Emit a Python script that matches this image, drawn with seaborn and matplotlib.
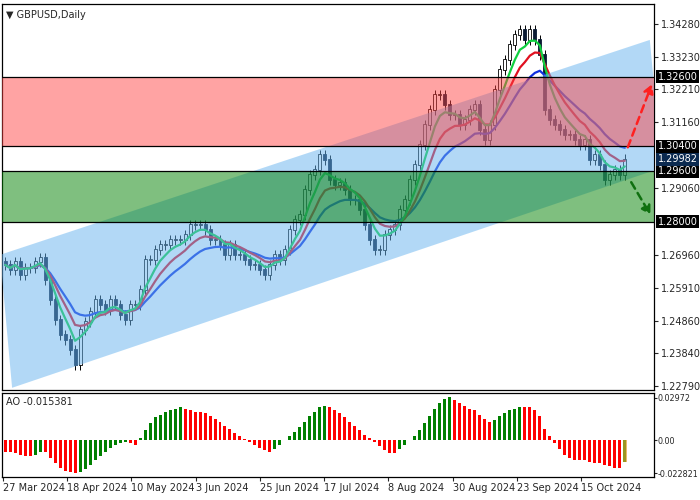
import numpy as np
import pandas as pd
import matplotlib
matplotlib.use("Agg")
import matplotlib.pyplot as plt
import matplotlib.transforms as mtrans
from matplotlib.patches import Polygon, FancyArrowPatch
import seaborn as sns

sns.set_style("white")
plt.rcParams['font.family'] = ['DejaVu Sans']

closes = [
1.2663,1.2647,1.2673,1.2631,1.2654,1.2654,1.2673,1.2685,1.2615,1.2552,
1.2488,1.2441,1.2425,1.2393,1.2346,1.2457,1.2482,1.2514,1.2552,1.2536,
1.2520,1.2552,1.2536,1.2504,1.2488,1.2536,1.2536,1.2584,1.2679,1.2679,
1.2711,1.2727,1.2727,1.2742,1.2742,1.2742,1.2758,1.2790,1.2790,1.2790,
1.2774,1.2742,1.2742,1.2727,1.2695,1.2727,1.2695,1.2695,1.2679,1.2663,
1.2663,1.2647,1.2631,1.2663,1.2695,1.2679,1.2711,1.2774,1.2806,1.2822,
1.2901,1.2949,1.2965,1.3012,1.2996,1.2933,1.2917,1.2923,1.2901,1.2869,
1.2869,1.2838,1.2790,1.2742,1.2711,1.2711,1.2758,1.2774,1.2790,1.2838,
1.2869,1.2933,1.2980,1.3044,1.3107,1.3155,1.3203,1.3203,1.3171,1.3139,
1.3139,1.3107,1.3123,1.3155,1.3171,1.3092,1.3060,1.3107,1.3219,1.3282,
1.3314,1.3361,1.3393,1.3409,1.3377,1.3409,1.3377,1.3330,1.3155,1.3123,
1.3107,1.3092,1.3076,1.3076,1.3060,1.3044,1.3060,1.2996,1.3012,1.2980,
1.2933,1.2949,1.2965,1.2949,1.2998]
ao = [
-0.008,-0.008,-0.009,-0.010,-0.011,-0.011,-0.010,-0.008,-0.008,-0.012,
-0.016,-0.019,-0.021,-0.022,-0.023,-0.022,-0.020,-0.017,-0.014,-0.011,
-0.008,-0.005,-0.003,-0.002,-0.001,-0.002,-0.003,0.002,0.007,0.012,
0.016,0.018,0.020,0.021,0.022,0.023,0.022,0.021,0.020,0.020,
0.019,0.017,0.015,0.013,0.010,0.008,0.005,0.003,0.001,-0.001,
-0.003,-0.005,-0.007,-0.008,-0.006,-0.003,0.000,0.003,0.006,0.009,
0.013,0.017,0.020,0.023,0.024,0.023,0.021,0.019,0.016,0.013,
0.010,0.007,0.004,0.002,-0.001,-0.004,-0.007,-0.009,-0.009,-0.006,
-0.003,0.000,0.003,0.007,0.012,0.017,0.022,0.026,0.029,0.030,
0.028,0.026,0.024,0.022,0.021,0.018,0.015,0.013,0.014,0.017,
0.019,0.021,0.022,0.023,0.023,0.023,0.021,0.017,0.008,0.003,
-0.002,-0.006,-0.010,-0.012,-0.014,-0.014,-0.014,-0.015,-0.016,-0.016,
-0.017,-0.018,-0.019,-0.019,-0.0154]
date_labels = ["27 Mar 2024","18 Apr 2024","10 May 2024","3 Jun 2024","25 Jun 2024",
               "17 Jul 2024","8 Aug 2024","30 Aug 2024","23 Sep 2024","15 Oct 2024"]
date_pos = [-0.5,12.4,25.2,38.2,51,63.8,76.6,89.6,102.4,115.2]
price_ticks = [1.34280,1.33230,1.32210,1.31160,1.29060,1.26960,1.25910,1.24860,1.23840,1.22790]
levels = [1.3260,1.3040,1.2960,1.2800]
last_price = 1.29982

n = len(closes)
x = np.arange(n)
c = np.array(closes)
o = np.r_[c[0] + 0.0010, c[:-1]]
hi = np.maximum(o, c) + 0.0016
lo = np.minimum(o, c) - 0.0016
df = pd.DataFrame({"x": x, "close": c})
df["fast"] = df.close.ewm(span=5).mean()
df["mid"] = df.close.ewm(span=9).mean()
df["slow"] = df.close.ewm(span=16).mean()

fig = plt.figure(figsize=(7, 5), dpi=100)
ax = fig.add_axes([0.003, 0.22, 0.931, 0.772])
ax2 = fig.add_axes([0.003, 0.046, 0.931, 0.168])
XL = (-0.6, 129.8)

bull = c >= o
ax.vlines(x, lo, hi, color="black", lw=0.7, zorder=2)
ax.bar(x[bull], (c - o)[bull] + 0.0002, bottom=o[bull], width=0.6, facecolor="white",
       edgecolor="black", lw=0.6, zorder=2.1)
ax.bar(x[~bull], (o - c)[~bull] + 0.0002, bottom=c[~bull], width=0.6, facecolor="#0a1a33",
       edgecolor="#0a1a33", lw=0.6, zorder=2.1)
sns.lineplot(data=df, x="x", y="slow", ax=ax, color="#1030e0", lw=1.6, zorder=2.5)
sns.lineplot(data=df, x="x", y="mid", ax=ax, color="#e01020", lw=1.6, zorder=2.5)
sns.lineplot(data=df, x="x", y="fast", ax=ax, color="#10d040", lw=1.6, zorder=2.5)

ax.add_patch(Polygon([(-1, 1.2695), (1.4, 1.2273), (131.4, 1.2971), (129, 1.3377)],
                     closed=True, facecolor="#66b3ef", alpha=0.5, lw=0, zorder=3))
ax.axhspan(levels[1], levels[0], facecolor="#ff4040", alpha=0.48, lw=0, zorder=3.2)
ax.axhspan(levels[3], levels[2], facecolor="#008000", alpha=0.5, lw=0, zorder=3.2)
for lv in levels:
    ax.axhline(lv, color="black", lw=0.9, zorder=4)

ax.add_patch(FancyArrowPatch((124.4, 1.3028), (129.6, 1.3244), arrowstyle="-|>,head_width=3,head_length=5",
                             color="#ff2020", lw=1.8, linestyle=(0, (3, 2)), zorder=5, clip_on=False))
ax.add_patch(FancyArrowPatch((125, 1.2933), (129.4, 1.2815), arrowstyle="-|>,head_width=3,head_length=5",
                             color="#107010", lw=1.8, linestyle=(0, (3, 2)), zorder=5, clip_on=False))

ax.set_xlim(*XL)
ax.set_ylim(1.2266, 1.3491)
ax.set_xlabel(""); ax.set_ylabel("")
ax.set_xticks([])
ax.yaxis.tick_right()
ax.set_yticks(price_ticks)
ax.set_yticklabels([f"{t:.5f}" for t in price_ticks], fontsize=7)
ax.tick_params(axis="y", length=3, pad=2, direction="out", right=True)
trans = mtrans.blended_transform_factory(ax.transAxes, ax.transData)
for lv in levels:
    ax.text(1.006, lv, f"{lv:.5f}", transform=trans, fontsize=7, color="white", va="center",
            ha="left", bbox=dict(boxstyle="square,pad=0.15", fc="black", ec="none"), zorder=6)
ax.text(1.006, last_price, f"{last_price:.5f}", transform=trans, fontsize=7, color="white",
        va="center", ha="left", bbox=dict(boxstyle="square,pad=0.15", fc="#0b2a50", ec="none"), zorder=7)
ax.text(0.006, 0.985, "▼ GBPUSD,Daily", transform=ax.transAxes, fontsize=7, va="top", ha="left")
for s in ax.spines.values():
    s.set_color("black"); s.set_linewidth(0.9)

aov = np.array(ao)
up = np.r_[False, aov[1:] > aov[:-1]]
cols = np.where(up, "#008000", "#ff0000")
ax2.bar(x, aov, width=0.6, color=cols, lw=0)
ax2.bar([x[-1]], [aov[-1]], width=0.9, color="#e0a030", alpha=0.7, lw=0)
ax2.set_xlim(*XL)
ax2.set_ylim(-0.0255, 0.0330)
ax2.yaxis.tick_right()
ao_ticks = [0.02972, 0.0, -0.022821]
ax2.set_yticks(ao_ticks)
ax2.set_yticklabels(["0.02972", "0.00", "-0.022821"], fontsize=5.8)
ax2.tick_params(axis="y", length=2, pad=0.5, right=True)
ax2.set_xticks(date_pos)
ax2.set_xticklabels(date_labels, fontsize=7, ha="left")
ax2.tick_params(axis="x", length=3, pad=1, bottom=True)
ax2.text(0.006, 0.95, "AO -0.015381", transform=ax2.transAxes, fontsize=7, va="top", ha="left")
for s in ax2.spines.values():
    s.set_color("black"); s.set_linewidth(0.9)

fig.savefig("out.png", dpi=100)
